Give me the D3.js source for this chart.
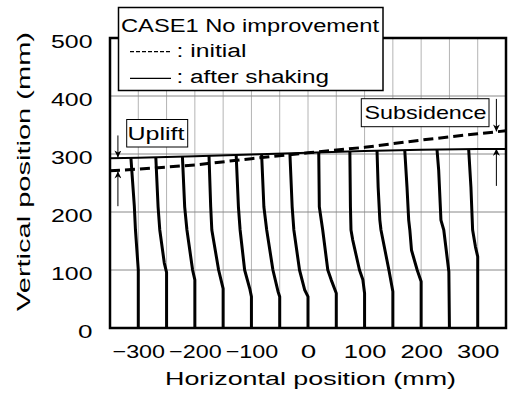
<!DOCTYPE html>
<html>
<head>
<meta charset="utf-8">
<script src="https://cdn.jsdelivr.net/npm/d3@7"></script>
<style>
  body{margin:0;background:#fff;}
  svg text{font-family:"Liberation Sans",Arial,sans-serif;fill:#000;}
</style>
</head>
<body>
<div id="chart"></div>
<script>
// tick labels and grid positions (mm)
var x_ticks=[-300,-200,-100,0,100,200,300]
var y_ticks=[0,100,200,300,400,500]
var grid_x=[-300,-250,-200,-150,-100,-50,0,50,100,150,200,250,300]
var grid_y=[100,200,300,400]

// ground surface, initial and after shaking
var surf_x=[-350,-300,-200,-100,0,100,200,300,350]
var surf_initial=[271,274,281,292,302,311.5,324,335,340]
var surf_after=[292.6,293.5,296,299,302,305,307.5,308.5,308.6]

// deformed marker columns [x, y]
var col_m300=[[-300,0],[-300,100],[-305,169],[-307,210],[-313,293]]
var col_m250=[[-250,0],[-250,96],[-254,112],[-262,169],[-265,209],[-269,294]]
var col_m200=[[-200,0],[-200,83],[-204,100],[-214,169],[-218,209],[-222,296]]
var col_m150=[[-150,0],[-150,68],[-158,100],[-170,169],[-172,209],[-175,297]]
var col_m100=[[-100,0],[-100,54],[-103,68],[-112,100],[-120,169],[-123,209],[-127,299]]
var col_m50=[[-50,0],[-50,54],[-53,63],[-62,100],[-73,169],[-78,209],[-82,300]]
var col_0=[[0,0],[0,54],[-6,66],[-15,100],[-25,169],[-28,209],[-32,301]]
var col_50=[[50,0],[50,60],[41,83],[35,100],[26,169],[20,209],[19,302.5]]
var col_100=[[100,0],[100,60],[97,83],[91,100],[79,152],[76,169],[75,209],[74,304]]
var col_150=[[150,0],[150,63],[143,100],[129,169],[127,186],[124,243],[122,306]]
var col_200=[[200,0],[200,80],[193,100],[183,134],[180,169],[178,186],[175,243],[171,307]]
var col_250=[[250,0],[249,97],[240,169],[235,186],[231,272],[228,308]]
var col_300=[[300,0],[300,123],[296,140],[291,169],[288,243],[284,308.5]]
var columns=[col_m300,col_m250,col_m200,col_m150,col_m100,col_m50,col_0,col_50,col_100,col_150,col_200,col_250,col_300]

var W=508, H=396

var svg=d3.select("#chart").append("svg")
    .attr("width",W).attr("height",H)

var x=d3.scaleLinear().domain([-350,350]).range([110,506])
var y=d3.scaleLinear().domain([0,500]).range([328,38])

// stretch text to the widths seen in the picture
function fit(sel,w){
    sel.attr("textLength",w).attr("lengthAdjust","spacingAndGlyphs")
}
function label_w(v){
    var s=String(v)
    return s.replace("-","").length*13.5+(v<0?10:0)
}

// grid
svg.append("g").selectAll("line")
    .data(grid_x).join("line")
    .attr("x1",d=>x(d)).attr("x2",d=>x(d))
    .attr("y1",y(0)).attr("y2",y(500))
    .attr("stroke","#b4b4b4").attr("stroke-width",1)
svg.append("g").selectAll("line")
    .data(grid_y).join("line")
    .attr("x1",x(-350)).attr("x2",x(350))
    .attr("y1",d=>y(d)).attr("y2",d=>y(d))
    .attr("stroke","#888").attr("stroke-width",1)

// columns
var line=d3.line().x(d=>x(d[0])).y(d=>y(d[1]))
svg.append("g").selectAll("path")
    .data(columns).join("path")
    .attr("d",line)
    .attr("fill","none").attr("stroke","#000")
    .attr("stroke-width",3).attr("stroke-linejoin","round")

// surfaces
var surf_line=d3.line().x((d,i)=>x(surf_x[i])).y(d=>y(d))
svg.append("path").datum(surf_after)
    .attr("d",surf_line)
    .attr("fill","none").attr("stroke","#000").attr("stroke-width",2)
svg.append("path").datum(surf_initial)
    .attr("d",surf_line)
    .attr("fill","none").attr("stroke","#000").attr("stroke-width",3)
    .attr("stroke-dasharray","10,5")

// frame
svg.append("rect")
    .attr("x",x(-350)).attr("y",y(500))
    .attr("width",x(350)-x(-350)).attr("height",y(0)-y(500))
    .attr("fill","none").attr("stroke","#000").attr("stroke-width",2.5)

// axes (labels only)
var ax=svg.append("g")
    .attr("transform","translate(0,"+y(0)+")")
    .call(d3.axisBottom(x).tickValues(x_ticks).tickSize(0).tickPadding(0))
ax.select(".domain").remove()
ax.selectAll("text")
    .attr("y",30).attr("dy",0)
    .style("font-size","19px").style("font-family",null)
    .each(function(d){fit(d3.select(this),label_w(d)+2)})

var ay=svg.append("g")
    .attr("transform","translate(92.5,0)")
    .call(d3.axisLeft(y).tickValues(y_ticks).tickSize(0).tickPadding(0))
ay.select(".domain").remove()
ay.selectAll("text")
    .attr("x",0).attr("dy",9)
    .style("font-size","19px").style("font-family",null)
    .each(function(d){fit(d3.select(this),label_w(d)+1)})

// axis titles
svg.append("text")
    .attr("x",310.5).attr("y",385)
    .attr("text-anchor","middle")
    .style("font-size","19px")
    .text("Horizontal position (mm)")
    .call(fit,291)
svg.append("text")
    .attr("transform","translate(30,171.5) rotate(-90)")
    .attr("text-anchor","middle")
    .style("font-size","19px")
    .text("Vertical position (mm)")
    .call(fit,279)

// legend
var lg=svg.append("g")
lg.append("rect")
    .attr("x",118.5).attr("y",7.5).attr("width",264.5).attr("height",83)
    .attr("fill","#fff").attr("stroke","#000").attr("stroke-width",1.5)
lg.append("text").attr("x",121).attr("y",31.7)
    .style("font-size","18px").text("CASE1 No improvement").call(fit,258)
lg.append("line")
    .attr("x1",130).attr("x2",171).attr("y1",51.7).attr("y2",51.7)
    .attr("stroke","#000").attr("stroke-width",1.3).attr("stroke-dasharray","4,2")
lg.append("text").attr("x",176.5).attr("y",57.3)
    .style("font-size","18px").text(": initial").call(fit,70)
lg.append("line")
    .attr("x1",130).attr("x2",171).attr("y1",78.3).attr("y2",78.3)
    .attr("stroke","#000").attr("stroke-width",1.3)
lg.append("text").attr("x",176.5).attr("y",83.3)
    .style("font-size","18px").text(": after shaking").call(fit,152.5)

// annotation boxes
svg.append("rect")
    .attr("x",126.7).attr("y",119.5).attr("width",61).attr("height",27.5)
    .attr("fill","#fff").attr("stroke","#000").attr("stroke-width",1)
svg.append("text").attr("x",127.5).attr("y",140)
    .style("font-size","19px").text("Uplift").call(fit,57)
svg.append("rect")
    .attr("x",361.3).attr("y",98.7).attr("width",127.7).attr("height",28)
    .attr("fill","#fff").attr("stroke","#000").attr("stroke-width",1)
svg.append("text").attr("x",364.5).attr("y",119.3)
    .style("font-size","19px").text("Subsidence").call(fit,122)

// arrows
svg.append("defs").append("marker")
    .attr("id","arr").attr("markerUnits","userSpaceOnUse")
    .attr("viewBox","0 0 10 10").attr("refX",10).attr("refY",5)
    .attr("markerWidth",10).attr("markerHeight",7).attr("orient","auto")
  .append("path").attr("d","M0,0L10,5L0,10L3,5Z").attr("fill","#000")

var arrows=[
    [-336,y(332),-336,y(294)],
    [-336,y(210),-336,y(270)],
    [333,y(395),333,y(339)],
    [333,y(245),333,y(309)]
]
svg.append("g").selectAll("line")
    .data(arrows).join("line")
    .attr("x1",d=>x(d[0])).attr("y1",d=>d[1])
    .attr("x2",d=>x(d[2])).attr("y2",d=>d[3])
    .attr("stroke","#000").attr("stroke-width",1)
    .attr("marker-end","url(#arr)")
</script>
</body>
</html>
